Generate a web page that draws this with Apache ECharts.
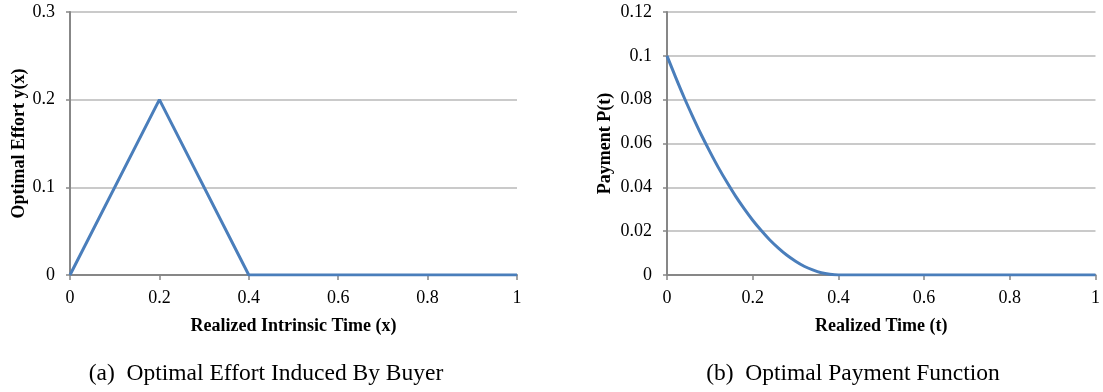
<!DOCTYPE html>
<html>
<head>
<meta charset="utf-8">
<script src="https://cdn.jsdelivr.net/npm/echarts@6/dist/echarts.min.js"></script>
<style>
  html, body { margin: 0; padding: 0; background: #ffffff; }
  #chart { width: 1103px; height: 392px; }
</style>
</head>
<body>
<div id="chart"></div>
<script>
// Panel (a): optimal effort y(x) over realized intrinsic time x
const effortX = [0, 0.2, 0.4, 0.6, 0.8, 1];
const effortY = [0, 0.2, 0, 0, 0, 0];

// Panel (b): optimal payment P(t) over realized time t
const paymentT = [0, 0.02, 0.04, 0.06, 0.08, 0.1, 0.12, 0.14, 0.16, 0.18, 0.2,
                  0.22, 0.24, 0.26, 0.28, 0.3, 0.32, 0.34, 0.36, 0.38, 0.4,
                  0.5, 0.6, 0.7, 0.8, 0.9, 1];
const paymentP = [0.1, 0.0903, 0.081, 0.0723, 0.064, 0.0563, 0.049, 0.0423, 0.036, 0.0303, 0.025,
                  0.0203, 0.016, 0.0123, 0.009, 0.0063, 0.004, 0.0023, 0.001, 0.0003, 0,
                  0, 0, 0, 0, 0, 0];

const axisTitles = {
  ax: 'Realized Intrinsic Time (x)',
  ay: 'Optimal Effort y(x)',
  bx: 'Realized Time (t)',
  by: 'Payment P(t)'
};
const captions = ['(a)  Optimal Effort Induced By Buyer', '(b)  Optimal Payment Function'];

const SERIF = '"Liberation Serif", "DejaVu Serif", serif';
const LINE = '#4a7ebb';
const AXIS = '#878787';
const GRID = '#b9b9b9';

function zip(xs, ys) { return xs.map((x, i) => [x, ys[i]]); }

function xAxis(gridIndex, name) {
  return {
    type: 'value', gridIndex, min: 0, max: 1, interval: 0.2,
    name, nameLocation: 'middle', nameGap: 42,
    nameTextStyle: { fontFamily: SERIF, fontWeight: 'bold', fontSize: 18, color: '#000' },
    axisLine: { show: true, lineStyle: { color: AXIS, width: 2 } },
    axisTick: { show: true, length: 5, lineStyle: { color: AXIS, width: 1.5 } },
    axisLabel: { fontFamily: SERIF, fontSize: 18, color: '#000', margin: 14 },
    splitLine: { show: false }
  };
}

function yAxis(gridIndex, max, interval, name, gap) {
  return {
    type: 'value', gridIndex, min: 0, max, interval,
    name, nameLocation: 'middle', nameGap: gap, nameRotate: 90,
    nameTextStyle: { fontFamily: SERIF, fontWeight: 'bold', fontSize: 18, color: '#000' },
    axisLine: { show: true, lineStyle: { color: AXIS, width: 2 } },
    axisTick: { show: true, length: 4, lineStyle: { color: AXIS, width: 1.5 } },
    axisLabel: { fontFamily: SERIF, fontSize: 18, color: '#000', margin: 15 },
    splitLine: { show: true, lineStyle: { color: GRID, width: 1.5 } }
  };
}

const chart = echarts.init(document.getElementById('chart'), null, { renderer: 'canvas' });
chart.setOption({
  animation: false,
  backgroundColor: '#ffffff',
  grid: [
    { left: 70, right: 586, top: 12, bottom: 117 },
    { left: 667, right: 0, top: 12, bottom: 117 }
  ],
  xAxis: [xAxis(0, axisTitles.ax), xAxis(1, axisTitles.bx)],
  yAxis: [
    yAxis(0, 0.3, 0.1, axisTitles.ay, 41),
    yAxis(1, 0.12, 0.02, axisTitles.by, 53)
  ],
  // sub-figure captions under each panel
  graphic: [
    { type: 'text', x: 266, y: 374,
      style: { text: captions[0], align: 'center', verticalAlign: 'middle',
               font: '23.5px ' + SERIF, fill: '#000' } },
    { type: 'text', x: 853, y: 374,
      style: { text: captions[1], align: 'center', verticalAlign: 'middle',
               font: '23.5px ' + SERIF, fill: '#000' } }
  ],
  series: [
    { type: 'line', xAxisIndex: 0, yAxisIndex: 0, data: zip(effortX, effortY),
      showSymbol: false, lineStyle: { color: LINE, width: 3 }, z: 5 },
    { type: 'line', xAxisIndex: 1, yAxisIndex: 1, data: zip(paymentT, paymentP),
      showSymbol: false, smooth: 0.3, lineStyle: { color: LINE, width: 3 }, z: 5 }
  ]
});
</script>
</body>
</html>
